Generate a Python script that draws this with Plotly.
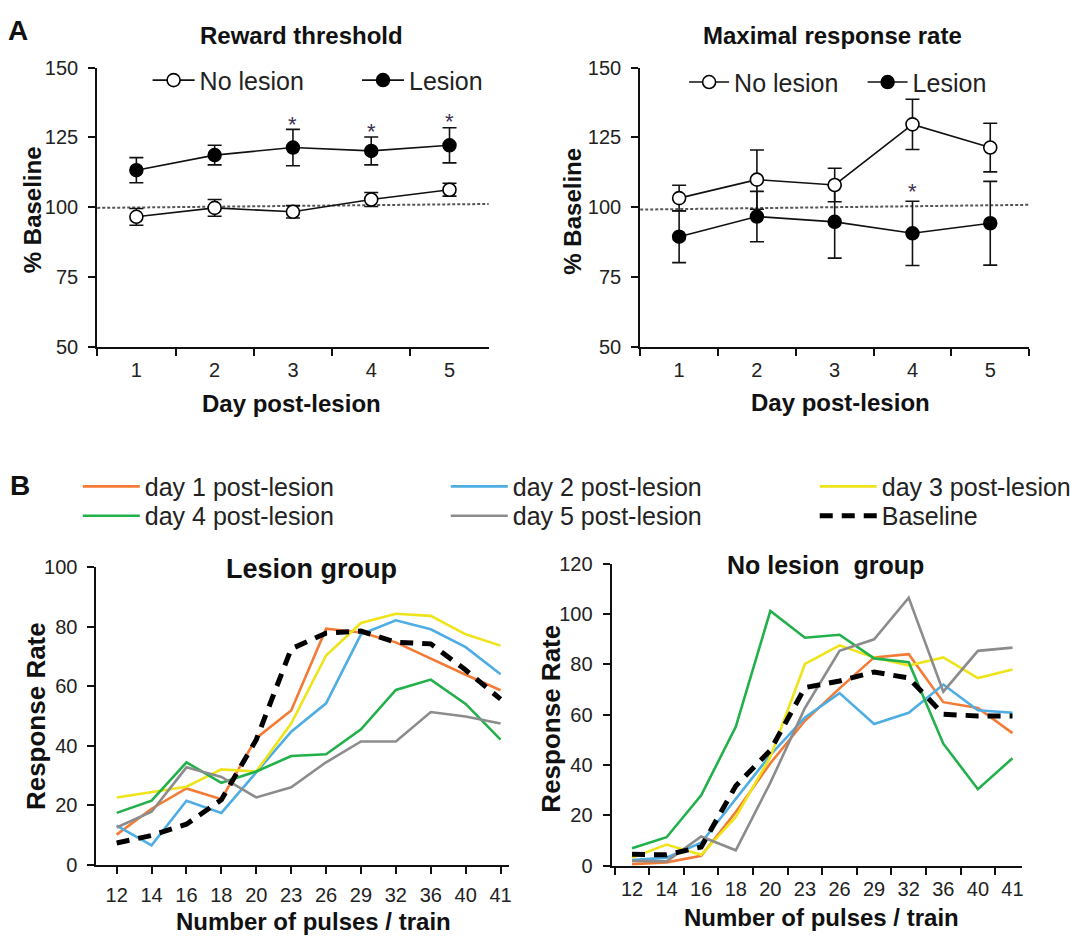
import plotly.graph_objects as go

W, H = 1086, 946
FONT = "Liberation Sans, Arial, sans-serif"
TXT = "#222222"

# ---------------- Panel A data ----------------
days = ["1", "2", "3", "4", "5"]
rt_nolesion = [96.6, 99.8, 98.4, 102.8, 106.3]
rt_nolesion_err = [3.0, 3.0, 2.2, 2.5, 2.3]
rt_lesion = [113.3, 118.7, 121.4, 120.2, 122.2]
rt_lesion_err = [4.5, 3.5, 6.5, 5.0, 6.3]
rt_star_days = ["3", "4", "5"]
rt_star_y = [131.0, 128.6, 132.2]

mr_nolesion = [103.3, 109.9, 108.0, 129.7, 121.4]
mr_nolesion_err = [4.6, 10.6, 6.0, 9.0, 8.7]
mr_lesion = [89.5, 96.7, 94.8, 90.7, 94.3]
mr_lesion_err = [9.3, 9.0, 13.0, 11.5, 15.0]
mr_star_days = ["4"]
mr_star_y = [107.0]

# ---------------- Panel B data ----------------
pulses = ["12", "14", "16", "18", "20", "23", "26", "29", "32", "36", "40", "41"]
series_names = ["day 1 post-lesion", "day 2 post-lesion", "day 3 post-lesion",
                "day 4 post-lesion", "day 5 post-lesion", "Baseline"]
series_colors = ["#F47B35", "#4EADE2", "#EFE31A", "#22B04B", "#8C8C8C", "#000000"]

lesion_day1 = [10.1, 18.8, 25.6, 22.0, 42.5, 51.8, 79.3, 78.0, 74.7, 69.2, 63.8, 58.6]
lesion_day2 = [13.1, 6.5, 21.5, 17.4, 31.0, 44.7, 54.2, 77.4, 82.1, 79.1, 73.1, 64.0]
lesion_day3 = [22.6, 24.3, 26.2, 32.0, 31.3, 47.4, 70.3, 81.2, 84.3, 83.6, 77.4, 73.6]
lesion_day4 = [17.4, 21.5, 34.4, 27.5, 31.3, 36.5, 37.1, 45.5, 58.7, 62.2, 54.0, 42.0]
lesion_day5 = [12.5, 17.8, 32.7, 29.5, 22.6, 26.0, 34.4, 41.4, 41.4, 51.3, 49.8, 47.4]
lesion_base = [7.3, 9.8, 13.6, 21.8, 42.0, 72.5, 77.8, 78.5, 74.7, 74.2, 65.4, 55.6]

nolesion_day1 = [0.6, 1.3, 3.9, 21.3, 40.7, 57.6, 70.5, 82.8, 84.1, 65.0, 62.7, 52.7]
nolesion_day2 = [2.2, 3.2, 9.1, 26.5, 44.0, 58.9, 68.6, 56.3, 60.8, 72.0, 61.8, 60.8]
nolesion_day3 = [3.2, 8.4, 4.3, 19.4, 43.3, 80.2, 87.6, 82.8, 79.6, 82.8, 74.6, 78.0]
nolesion_day4 = [6.9, 11.3, 28.0, 55.2, 101.3, 90.6, 91.8, 82.4, 80.9, 48.5, 30.4, 42.7]
nolesion_day5 = [1.9, 1.7, 11.6, 6.1, 33.0, 62.7, 85.4, 90.0, 106.5, 69.2, 85.4, 86.7]
nolesion_base = [4.5, 4.3, 7.4, 31.7, 45.9, 70.8, 73.4, 77.0, 74.6, 60.2, 59.5, 59.5]

lesion_series = [lesion_day1, lesion_day2, lesion_day3, lesion_day4, lesion_day5, lesion_base]
nolesion_series = [nolesion_day1, nolesion_day2, nolesion_day3, nolesion_day4, nolesion_day5, nolesion_base]


def px_x(p):
    return p / W


def px_y(p):
    return 1 - p / H


fig = go.Figure()

# ---------------- Panel A traces ----------------
def add_a(xa, ya, y_no, e_no, y_les, e_les, leg_no, leg_les):
    fig.add_trace(go.Scatter(
        x=days, y=y_les, xaxis=xa, yaxis=ya, name="Lesion", mode="lines+markers",
        line=dict(color="#111111", width=1.6),
        marker=dict(symbol="circle", size=13, color="#000000", line=dict(color="#000000", width=1.5)),
        error_y=dict(type="data", array=e_les, color="#111111", thickness=1.6, width=7),
        legend=leg_les))
    fig.add_trace(go.Scatter(
        x=days, y=y_no, xaxis=xa, yaxis=ya, name="No lesion", mode="lines+markers",
        line=dict(color="#111111", width=1.6),
        marker=dict(symbol="circle", size=13, color="#ffffff", line=dict(color="#000000", width=1.6)),
        error_y=dict(type="data", array=e_no, color="#111111", thickness=1.6, width=7),
        legend=leg_no))


add_a("x", "y", rt_nolesion, rt_nolesion_err, rt_lesion, rt_lesion_err, "legend7", "legend8")
add_a("x2", "y2", mr_nolesion, mr_nolesion_err, mr_lesion, mr_lesion_err, "legend9", "legend10")

# ---------------- Panel B traces ----------------
b_legends = ["legend", "legend2", "legend3", "legend4", "legend5", "legend6"]
for i, name in enumerate(series_names):
    is_base = name == "Baseline"
    ln = dict(color=series_colors[i], width=5 if is_base else 2.6)
    if is_base:
        ln["dash"] = "13px,9px"
    fig.add_trace(go.Scatter(x=pulses, y=lesion_series[i], xaxis="x3", yaxis="y3",
                             mode="lines", name=name, line=ln, legend=b_legends[i]))
    fig.add_trace(go.Scatter(x=pulses, y=nolesion_series[i], xaxis="x4", yaxis="y4",
                             mode="lines", name=name, line=ln, showlegend=False))

# ---------------- Axes ----------------
axis_common = dict(showline=True, linecolor="#111111", linewidth=2, ticks="outside",
                   ticklen=7, tickwidth=1.6, tickcolor="#111111", showgrid=False,
                   zeroline=False, tickfont=dict(family=FONT, size=20, color=TXT))

a_y_dom = [px_y(344), px_y(58)]
fig.update_layout(
    xaxis=dict(axis_common, domain=[px_x(97.5), px_x(490)], anchor="y", type="category",
               range=[-0.5, 4.5], tickson="boundaries", ticklabelstandoff=4),
    yaxis=dict(axis_common, domain=a_y_dom, anchor="x", range=[50, 150],
               tickvals=[50, 75, 100, 125, 150], ticklabelstandoff=6),
    xaxis2=dict(axis_common, domain=[px_x(642), px_x(1032)], anchor="y2", type="category",
                range=[-0.5, 4.5], tickson="boundaries", ticklabelstandoff=4),
    yaxis2=dict(axis_common, domain=a_y_dom, anchor="x2", range=[50, 150],
                tickvals=[50, 75, 100, 125, 150], ticklabelstandoff=6),
    xaxis3=dict(axis_common, domain=[px_x(96.7), px_x(510)], anchor="y3", type="category",
                range=[-0.58, 11.23], tickson="labels", ticklabelstandoff=4),
    yaxis3=dict(axis_common, domain=[px_y(874), px_y(569.3)], anchor="x3", range=[0, 100],
                tickvals=[0, 20, 40, 60, 80, 100], ticklabelstandoff=6),
    xaxis4=dict(axis_common, domain=[px_x(613.3), px_x(1025)], anchor="y4", type="category",
                range=[-0.59, 11.28], tickson="boundaries", ticklabelstandoff=4),
    yaxis4=dict(axis_common, domain=[px_y(875), px_y(566)], anchor="x4", range=[0, 120],
                tickvals=[0, 20, 40, 60, 80, 100, 120], ticklabelstandoff=6),
)

# ---------------- Legends (one per entry for exact placement) ----------------
def leg(x0, yc, size, iw=30):
    return dict(x=px_x(x0), y=px_y(yc), xanchor="left", yanchor="middle", orientation="v",
                font=dict(family=FONT, size=size, color=TXT), bgcolor="rgba(0,0,0,0)",
                borderwidth=0, itemclick=False, itemdoubleclick=False, itemwidth=iw)

B_IW = 57
b_leg_pos = [(78, 487), (447, 487), (817, 487), (78, 517), (447, 517), (817, 517)]
for name, (lx, ly) in zip(b_legends, b_leg_pos):
    fig.update_layout({name: leg(lx, ly, 25, B_IW)})
fig.update_layout(legend7=leg(148, 71, 25, 42), legend8=leg(358, 71, 25, 42),
                  legend9=leg(686, 73, 25, 40), legend10=leg(865, 73, 25, 40))

# ---------------- Reference dotted lines ----------------
fig.add_shape(type="line", xref="x domain", yref="y", x0=0, x1=1, y0=99.8, y1=101.2,
              line=dict(color="#555555", width=2, dash="3px,2px"), layer="below")
fig.add_shape(type="line", xref="x2 domain", yref="y2", x0=0, x1=1, y0=99.2, y1=100.9,
              line=dict(color="#555555", width=2, dash="3px,2px"), layer="below")

# ---------------- Text annotations ----------------
ann = []


def txt(x, y, s, size, bold=True, angle=0):
    ann.append(dict(x=px_x(x), y=px_y(y), xref="paper", yref="paper", text=("<b>%s</b>" % s) if bold else s,
                    showarrow=False, xanchor="center", yanchor="middle", textangle=angle,
                    font=dict(family=FONT, size=size, color="#111111")))


txt(18, 20, "A", 28)
txt(20, 486, "B", 28)
txt(302, 25, "Reward threshold", 24)
txt(835, 25, "Maximal response rate", 24)
txt(32, 203, "% Baseline", 24, angle=-90)
txt(574, 205, "% Baseline", 24, angle=-90)
txt(292, 402, "Day post-lesion", 24)
txt(843, 401, "Day post-lesion", 24)
txt(312, 571, "Lesion group", 27)
txt(828, 567, "No lesion  group", 25)
txt(36, 722, "Response Rate", 26, angle=-90)
txt(553, 724, "Response Rate", 26, angle=-90)
txt(314, 932, "Number of pulses / train", 24)
txt(824, 928, "Number of pulses / train", 24)

# star annotations: category axes take the category index as x
for d, yv in zip(rt_star_days, rt_star_y):
    ann.append(dict(x=days.index(d), y=yv, xref="x", yref="y", text="*", showarrow=False,
                    yanchor="middle", yshift=-4, font=dict(family=FONT, size=22, color="#3a3050")))
for d, yv in zip(mr_star_days, mr_star_y):
    ann.append(dict(x=days.index(d), y=yv, xref="x2", yref="y2", text="*", showarrow=False,
                    yanchor="middle", yshift=-4, font=dict(family=FONT, size=22, color="#3a3050")))

fig.update_layout(annotations=ann, width=W, height=H, margin=dict(l=0, r=0, t=0, b=0),
                  paper_bgcolor="white", plot_bgcolor="white", showlegend=True,
                  font=dict(family=FONT, color=TXT))

fig.write_html("out.html")
